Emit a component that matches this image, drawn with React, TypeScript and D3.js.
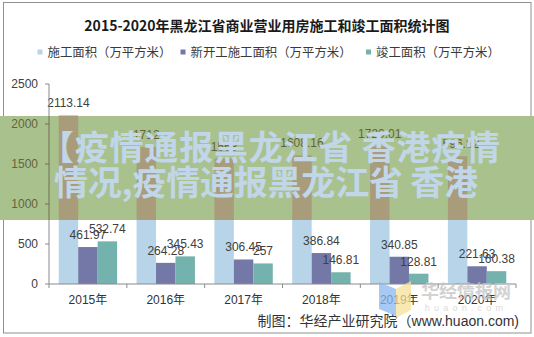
import React from "react";
import * as d3 from "d3";

const years = ["2015年", "2016年", "2017年", "2018年", "2019年", "2020年"];
const seriesNames = ["施工面积（万平方米）", "新开工施工面积（万平方米）", "竣工面积（万平方米）"];
const construction = [2113.14, 1712, 1568, 1608.16, 1720.01, 1596.82];
const newStarts = [461.97, 264.28, 306.45, 386.84, 340.85, 221.63];
const completed = [532.74, 345.43, 257, 146.81, 128.81, 160.38];
const yTicks = [0, 500, 1000, 1500, 2000, 2500];
const bannerLines = ["【疫情通报黑龙江省 香港疫情", "情况,疫情通报黑龙江省 香港"];

const W = 534, H = 337;
const colors = ["#b7d4e8", "#7378a6", "#74b2ae"];
const FONT = "'Liberation Sans', 'Noto Sans CJK SC', sans-serif";
const CJK = "'Noto Sans CJK SC', 'Liberation Sans', sans-serif";

const x = d3.scaleBand<string>().domain(years).range([49, 516]).paddingInner(0.25).paddingOuter(0.125);
const xi = d3.scaleBand<number>().domain([0, 1, 2]).range([0, x.bandwidth()]);
const y = d3.scaleLinear().domain([0, 2500]).range([284, 84]);
const series = [construction, newStarts, completed];
const bannerTop = 116, bannerBottom = 220;

type Pal = { bars: string[]; text: string; axis: string };
const normal: Pal = { bars: colors, text: "#404040", axis: "#8a8a8a" };
const inBanner: Pal = { bars: ["#a99c7b", "#6a6a5a", "#6f8c74"], text: "#66623e", axis: "#6f6f52" };

function Content({ pal }: { pal: Pal }) {
  const step = x.step();
  return (
    <g>
      {series.map((vals, si) =>
        vals.map((v, i) => (
          <rect key={`b${si}-${i}`} x={(x(years[i]) as number) + (xi(si) as number)} y={y(v)}
            width={xi.bandwidth()} height={y(0) - y(v)} fill={pal.bars[si]} />
        ))
      )}
      {series.map((vals, si) =>
        vals.map((v, i) => (
          <text key={`l${si}-${i}`} x={(x(years[i]) as number) + (xi(si) as number) + xi.bandwidth() / 2}
            y={y(v) - 12} textAnchor="middle" dominantBaseline="central" fontSize={12}
            fontFamily={FONT} fill={pal.text}>{v}</text>
        ))
      )}
      <line x1={49} x2={49} y1={y(2500)} y2={y(0)} stroke={pal.axis} />
      {yTicks.map((t) => (
        <g key={`yt${t}`}>
          <line x1={45} x2={49} y1={y(t)} y2={y(t)} stroke={pal.axis} />
          <text x={38} y={y(t)} textAnchor="end" dominantBaseline="central" fontSize={12}
            fontFamily={FONT} fill={pal.text}>{t}</text>
        </g>
      ))}
      <line x1={49} x2={516} y1={y(0)} y2={y(0)} stroke={pal.axis} />
      {d3.range(years.length + 1).map((i) => (
        <line key={`xt${i}`} x1={49 + i * step} x2={49 + i * step} y1={y(0)} y2={y(0) + 4} stroke={pal.axis} />
      ))}
    </g>
  );
}

export default function App() {
  const legendX = [37.5, 180.5, 366];
  const bannerX = [40, 54];
  const bannerLen = [460, 424];
  return (
    <svg width={W} height={H} style={{ position: "absolute", left: 0, top: 0, background: "#fff" }}>
      <defs>
        <clipPath id="bannerClip">
          <rect x={0} y={bannerTop} width={W} height={bannerBottom - bannerTop} />
        </clipPath>
      </defs>
      <rect x={0} y={0} width={W} height={H} fill="#fff" />
      <rect x={3.5} y={2.5} width={527.5} height={330.5} fill="none" stroke="#909090" />
      <text x={267} y={25} textAnchor="middle" dominantBaseline="central" fontSize={14} fontWeight="bold"
        fontFamily={CJK} fill="#1a1a1a">2015-2020年黑龙江省商业营业用房施工和竣工面积统计图</text>
      {seriesNames.map((n, i) => (
        <g key={n}>
          <rect x={legendX[i]} y={49.5} width={5} height={5} fill={colors[i]} />
          <text x={legendX[i] + 10} y={52} dominantBaseline="central" fontSize={12.4} fontFamily={CJK} fill="#3a3a3a">{n}</text>
        </g>
      ))}
      <Content pal={normal} />
      {years.map((yr) => (
        <text key={yr} x={(x(yr) as number) + x.bandwidth() / 2} y={300} textAnchor="middle" dominantBaseline="central"
          fontSize={12} fontFamily={FONT} fill="#333">{yr}</text>
      ))}
      <text x={519} y={321} textAnchor="end" dominantBaseline="central" fontSize={14} fontFamily={FONT} fill="#333">制图：华经产业研究院（www.huaon.com)</text>

      {/* watermark */}
      <g opacity={0.75}>
        <polygon points="379,282 396,289 396,316 379,309" fill="#8ab8f0" />
        <polygon points="396,289 411,281 411,310 396,318" fill="#f6e29a" />
        <text x={466} y={290} textAnchor="middle" dominantBaseline="central" fontSize={18} fontWeight="bold"
          fontFamily={CJK} fill="#c4c4c4">华经情报网</text>
        <text x={466} y={308} textAnchor="middle" dominantBaseline="central" fontSize={9} letterSpacing={4.2}
          fontFamily={FONT} fill="#cfcfcf">huaon.com</text>
      </g>

      {/* banner overlay */}
      <rect x={0} y={bannerTop} width={W} height={bannerBottom - bannerTop} fill="#a9c28d" />
      <g clipPath="url(#bannerClip)">
        <Content pal={inBanner} />
        {bannerLines.map((l, i) => (
          <text key={l} x={bannerX[i]} y={145 + i * 35} dominantBaseline="central" fontSize={34} fontWeight="bold"
            textLength={bannerLen[i]} lengthAdjust="spacing"
            fontFamily={CJK} fill="#c1d6e9">{l}</text>
        ))}
      </g>
    </svg>
  );
}
